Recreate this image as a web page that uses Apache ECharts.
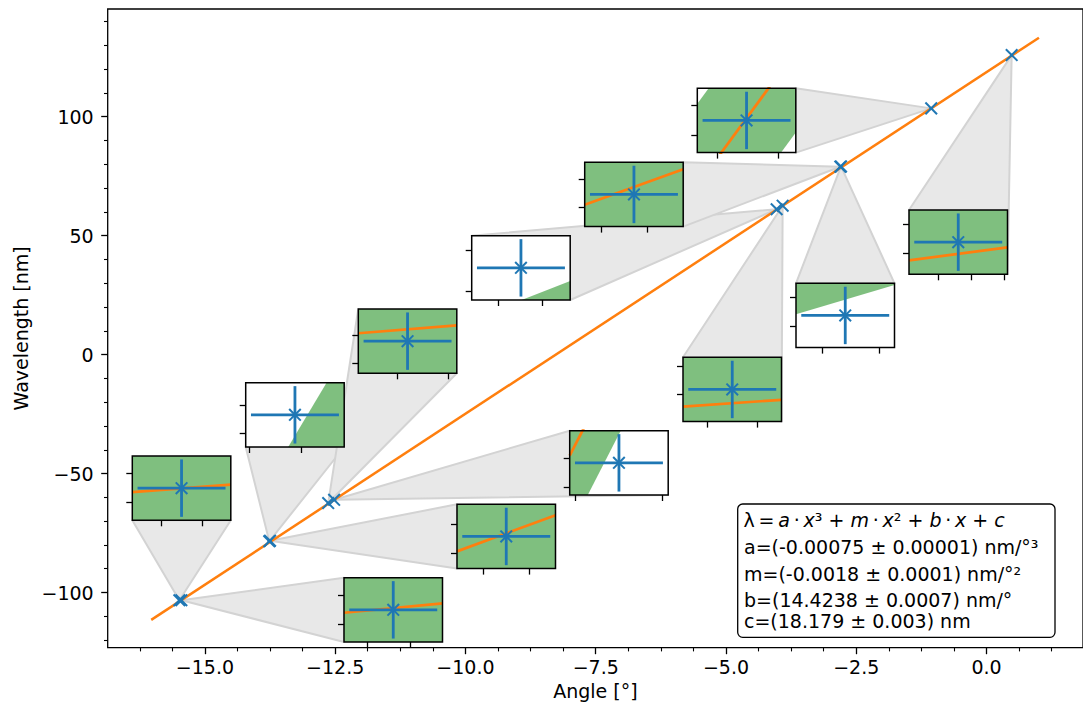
<!DOCTYPE html>
<html>
<head>
<meta charset="utf-8">
<script src="https://cdn.jsdelivr.net/npm/echarts@6/dist/echarts.min.js"></script>
<style>
  html, body { margin: 0; padding: 0; background: #fff; }
  #chart { width: 1083px; height: 713px; }
</style>
</head>
<body>
<div id="chart"></div>
<script>
// ---- Calibration measurements: spectrometer angle vs. wavelength ----
const pointAngle = [-15.490, -15.452, -13.7648, -13.750, -12.634, -12.5197, -4.0272, -3.912, -2.8058, -2.7919, -1.0608, 0.483];
const pointWave  = [-103.26, -103.25, -78.47, -78.21, -62.40, -61.03, 61.09, 62.59, 78.98, 79.09, 103.50, 125.89];
const angleErr   = [0.0043, 0.0051, 0.034, 0.0195, 0.0043, 0.0406, 0.0152, 0.0035, 0.0192, 0.0155, 0.0285, 0.0067];
const waveErr    = [0.50, 0.49, 0.20, 0.50, 0.51, 0.20, 0.35, 0.50, 0.50, 0.49, 0.19, 0.49];

// ---- Fitted calibration curve across the full range ----
const fitAngle = [-16.03, 1.007];
const fitWave  = [-111.5, 133.2];

// Fit value at the left / right edge of each zoomed window, and the
// half-width of the fit's uncertainty band there (nm)
const zoomFitLeft  = [-103.33, -103.30, -79.91, -78.47, -62.26, -60.98, 59.52, 62.29, 78.80, 80.21, 103.07, 125.58];
const zoomFitRight = [-103.20, -103.14, -78.76, -77.84, -62.12, -59.64, 59.99, 62.41, 79.42, 80.71, 103.96, 125.80];
const zoomBand     = [1.4, 1.4, 0.72, 1.4, 1.4, 0.52, 0.94, 1.4, 1.4, 1.1, 0.54, 1.4];

// Tick values of each zoomed window
const zoomAngleTicks = [
  [-15.492, -15.488], [-15.455, -15.450], [-13.80, -13.76], [-13.76, -13.74],
  [-12.635, -12.630], [-12.56, -12.48], [-4.035, -4.020], [-3.914, -3.910],
  [-2.82, -2.80], [-2.80, -2.78], [-1.08, -1.04], [0.480, 0.485, 0.490]
];
const zoomWaveTicks = [
  [-103.5, -103.0], [-103.5, -103.0], [-78.6, -78.4], [-78.5, -78.0],
  [-62.8, -62.3], [-61.2, -61.0], [60.8, 61.3], [62.5, 63.0],
  [78.75, 79.25], [78.9, 79.4], [103.4, 103.6], [125.7, 126.2]
];

// Main axis ticks
const angleMajor = [-15, -12.5, -10, -7.5, -5, -2.5, 0];
const angleMinor = [-16.25, -15.625, -14.375, -13.75, -13.125, -11.875, -11.25, -10.625,
                    -9.375, -8.75, -8.125, -6.875, -6.25, -5.625, -4.375, -3.75, -3.125,
                    -1.875, -1.25, -0.625, 0.625, 1.25];
const waveMajor = [-100, -50, 0, 50, 100];
const waveMinor = [-120, -110, -90, -80, -70, -60, -40, -30, -20, -10, 10, 20, 30, 40, 60, 70, 80, 90, 110, 120, 130, 140];

// Fit parameter summary
const fitLines = [
  'a=(-0.00075 ± 0.00001) nm/°³',
  'm=(-0.0018 ± 0.0001) nm/°²',
  'b=(14.4238 ± 0.0007) nm/°',
  'c=(18.179 ± 0.003) nm'
];

// ---- Layout / style ----
const FONT = 'DejaVu Sans';
const BLUE = '#1f77b4', ORANGE = '#ff7f0e', GREEN = 'rgba(0,128,0,0.5)';
const INSET_W = 98.5, INSET_H = 64.3;
const PAD = 1.12;               // zoom window = value ± PAD * uncertainty
const insetOrigin = [
  [132.3, 456], [344, 577.7], [245.7, 382.7], [457, 504.3], [358.3, 309], [569.7, 430.7],
  [471.7, 235.7], [683, 357.3], [584.7, 162.3], [796, 283.3], [697.3, 88.3], [909, 210]
];

const minus = s => String(s).replace('-', '\u2212');

function renderErrorPoint(params, api) {
  const x = api.value(0), y = api.value(1), ex = api.value(2), ey = api.value(3);
  const c = api.coord([x, y]);
  const l = api.coord([x - ex, y]), r = api.coord([x + ex, y]);
  const lo = api.coord([x, y - ey]), hi = api.coord([x, y + ey]);
  const s = 5.8;
  const bar = { stroke: BLUE, lineWidth: 2.8, fill: null };
  const mk = { stroke: BLUE, lineWidth: 2, fill: null };
  return {
    type: 'group',
    children: [
      { type: 'line', shape: { x1: l[0], y1: l[1], x2: r[0], y2: r[1] }, style: bar },
      { type: 'line', shape: { x1: lo[0], y1: lo[1], x2: hi[0], y2: hi[1] }, style: bar },
      { type: 'line', shape: { x1: c[0] - s, y1: c[1] - s, x2: c[0] + s, y2: c[1] + s }, style: mk },
      { type: 'line', shape: { x1: c[0] - s, y1: c[1] + s, x2: c[0] + s, y2: c[1] - s }, style: mk }
    ]
  };
}

// Keep the part of a polygon where the linear function fn is >= 0
function clipHalfPlane(poly, fn) {
  const out = [];
  for (let k = 0; k < poly.length; k++) {
    const a = poly[k], b = poly[(k + 1) % poly.length];
    const fa = fn(a), fb = fn(b);
    if (fa >= 0) out.push(a);
    if ((fa >= 0) !== (fb >= 0)) {
      const t = fa / (fa - fb);
      out.push([a[0] + t * (b[0] - a[0]), a[1] + t * (b[1] - a[1])]);
    }
  }
  return out;
}

// Shaded link from a measurement to its zoomed window
function renderConnector(params, api) {
  const i = params.dataIndex;
  const p = api.coord([api.value(0), api.value(1)]);
  const [bx, by] = insetOrigin[i];
  const corners = [[bx, by], [bx + INSET_W, by], [bx + INSET_W, by + INSET_H], [bx, by + INSET_H]];
  const base = Math.atan2(by + INSET_H / 2 - p[1], bx + INSET_W / 2 - p[0]);
  let lo = null, hi = null, aLo = Infinity, aHi = -Infinity;
  corners.forEach(c => {
    let a = Math.atan2(c[1] - p[1], c[0] - p[0]) - base;
    while (a > Math.PI) a -= 2 * Math.PI;
    while (a < -Math.PI) a += 2 * Math.PI;
    if (a < aLo) { aLo = a; lo = c; }
    if (a > aHi) { aHi = a; hi = c; }
  });
  return {
    type: 'polygon',
    shape: { points: [p, lo, hi] },
    style: { fill: '#e8e8e8', stroke: '#d3d3d3', lineWidth: 2, lineJoin: 'round' }
  };
}

const pointData = pointAngle.map((a, i) => [a, pointWave[i], angleErr[i], waveErr[i]]);
const noLine = { show: false, onZero: false };

const grids = [{ left: 107.7, top: 9, width: 983.3, height: 638.7, show: true,
                 borderColor: '#000', borderWidth: 1.3, backgroundColor: 'transparent' }];
const xAxes = [
  {
    gridIndex: 0, type: 'value', min: -16.8655, max: 1.852, position: 'bottom',
    axisLine: noLine, splitLine: { show: false },
    axisTick: { show: true, customValues: angleMajor, length: 6.5, lineStyle: { color: '#000', width: 1.3 } },
    axisLabel: { customValues: angleMajor, formatter: v => minus(v.toFixed(1)), margin: 10,
                 fontFamily: FONT, fontSize: 19, color: '#000' },
    name: 'Angle [°]', nameLocation: 'middle', nameGap: 33,
    nameTextStyle: { fontFamily: FONT, fontSize: 19, color: '#000' }
  },
  {
    gridIndex: 0, type: 'value', min: -16.8655, max: 1.852, position: 'bottom', offset: 0,
    axisLine: noLine, splitLine: { show: false }, axisLabel: { show: false },
    axisTick: { show: true, customValues: angleMinor, length: 3.7, lineStyle: { color: '#000', width: 1.1 } }
  }
];
const yAxes = [
  {
    gridIndex: 0, type: 'value', min: -123.2, max: 145.27, position: 'left',
    axisLine: noLine, splitLine: { show: false },
    axisTick: { show: true, customValues: waveMajor, length: 6.5, lineStyle: { color: '#000', width: 1.3 } },
    axisLabel: { customValues: waveMajor, formatter: v => minus(v), margin: 14,
                 fontFamily: FONT, fontSize: 19, color: '#000' },
    name: 'Wavelength [nm]', nameLocation: 'middle', nameGap: 72, nameRotate: 90,
    nameTextStyle: { fontFamily: FONT, fontSize: 19, color: '#000' }
  },
  {
    gridIndex: 0, type: 'value', min: -123.2, max: 145.27, position: 'left', offset: 0,
    axisLine: noLine, splitLine: { show: false }, axisLabel: { show: false },
    axisTick: { show: true, customValues: waveMinor, length: 3.7, lineStyle: { color: '#000', width: 1.1 } }
  }
];

const series = [
  { type: 'custom', name: 'links', xAxisIndex: 0, yAxisIndex: 0, z: 2,
    data: pointData, renderItem: renderConnector },
  { type: 'line', name: 'fit', xAxisIndex: 0, yAxisIndex: 0, z: 3, symbol: 'none',
    data: fitAngle.map((a, i) => [a, fitWave[i]]),
    lineStyle: { color: ORANGE, width: 2.5 } },
  { type: 'custom', name: 'data', xAxisIndex: 0, yAxisIndex: 0, z: 4,
    data: pointData, renderItem: renderErrorPoint }
];

pointAngle.forEach((a, i) => {
  const g = i + 1, ax = i + 2;
  const xMin = a - PAD * angleErr[i], xMax = a + PAD * angleErr[i];
  const yMin = pointWave[i] - PAD * waveErr[i], yMax = pointWave[i] + PAD * waveErr[i];
  const fitL = zoomFitLeft[i], fitR = zoomFitRight[i], w = zoomBand[i];
  grids.push({ left: insetOrigin[i][0], top: insetOrigin[i][1], width: INSET_W, height: INSET_H, show: false });
  xAxes.push({
    gridIndex: g, type: 'value', min: xMin, max: xMax, position: 'bottom', z: 20,
    axisLine: noLine, splitLine: { show: false }, axisLabel: { show: false },
    axisTick: { show: true, customValues: zoomAngleTicks[i], length: 6, lineStyle: { color: '#000', width: 1.3 } }
  });
  yAxes.push({
    gridIndex: g, type: 'value', min: yMin, max: yMax, position: 'left', z: 20,
    axisLine: noLine, splitLine: { show: false }, axisLabel: { show: false },
    axisTick: { show: true, customValues: zoomWaveTicks[i], length: 6, lineStyle: { color: '#000', width: 1.3 } }
  });
  const fitAt = x => fitL + (fitR - fitL) * (x - xMin) / (xMax - xMin);
  series.push({
    type: 'custom', name: 'band' + i, xAxisIndex: ax, yAxisIndex: ax, z: 10,
    data: [[a, pointWave[i]]],
    renderItem(params, api) {
      const cs = params.coordSys;
      let poly = [[xMin, yMin], [xMax, yMin], [xMax, yMax], [xMin, yMax]];
      poly = clipHalfPlane(poly, p => fitAt(p[0]) + w - p[1]);
      poly = clipHalfPlane(poly, p => p[1] - (fitAt(p[0]) - w));
      const children = [{ type: 'rect', shape: { x: cs.x, y: cs.y, width: cs.width, height: cs.height },
                          style: { fill: '#fff' } }];
      if (poly.length >= 3) {
        children.push({ type: 'polygon', shape: { points: poly.map(p => api.coord(p)) },
                        style: { fill: GREEN } });
      }
      return { type: 'group', children };
    }
  });
  series.push({
    type: 'line', name: 'zoomFit' + i, xAxisIndex: ax, yAxisIndex: ax, z: 11, symbol: 'none', clip: true,
    data: [[xMin, fitL], [xMax, fitR]], lineStyle: { color: ORANGE, width: 2.7 }
  });
  series.push({
    type: 'custom', name: 'zoomData' + i, xAxisIndex: ax, yAxisIndex: ax, z: 12,
    data: [pointData[i]], renderItem: renderErrorPoint
  });
  series.push({
    type: 'custom', name: 'frame' + i, xAxisIndex: ax, yAxisIndex: ax, z: 13,
    data: [[a, pointWave[i]]],
    renderItem(params) {
      const cs = params.coordSys;
      return { type: 'rect', shape: { x: cs.x, y: cs.y, width: cs.width, height: cs.height },
               style: { fill: null, stroke: '#000', lineWidth: 1.5 } };
    }
  });
});

// Parameter box
const textBase = { fontFamily: FONT, fontSize: 19, fill: '#000', align: 'left', verticalAlign: 'middle' };
const lineY = [546.8, 573.5, 599.5, 620.5];
const graphic = [{
  type: 'group', z: 50,
  children: [
    { type: 'rect', shape: { x: 737.7, y: 504, width: 317.3, height: 133.3, r: 5 },
      style: { fill: '#fff', stroke: '#000', lineWidth: 1.3 } },
    { type: 'text', x: 743.5, y: 519.5,
      style: Object.assign({}, textBase, {
        text: 'λ\u2009=\u2009{i|a}\u2009·\u2009{i|x}³ + {i|m}\u2009·\u2009{i|x}² + {i|b}\u2009·\u2009{i|x} + {i|c}',
        rich: { i: { fontStyle: 'italic', fontFamily: FONT, fontSize: 19, fill: '#000' } }
      }) }
  ].concat(fitLines.map((t, k) => ({
    type: 'text', x: 744, y: lineY[k], style: Object.assign({}, textBase, { text: t })
  })))
}];

const chart = echarts.init(document.getElementById('chart'), null, { renderer: 'svg', width: 1083, height: 713 });
chart.setOption({
  animation: false,
  backgroundColor: '#fff',
  grid: grids,
  xAxis: xAxes,
  yAxis: yAxes,
  series,
  graphic
});
</script>
</body>
</html>
